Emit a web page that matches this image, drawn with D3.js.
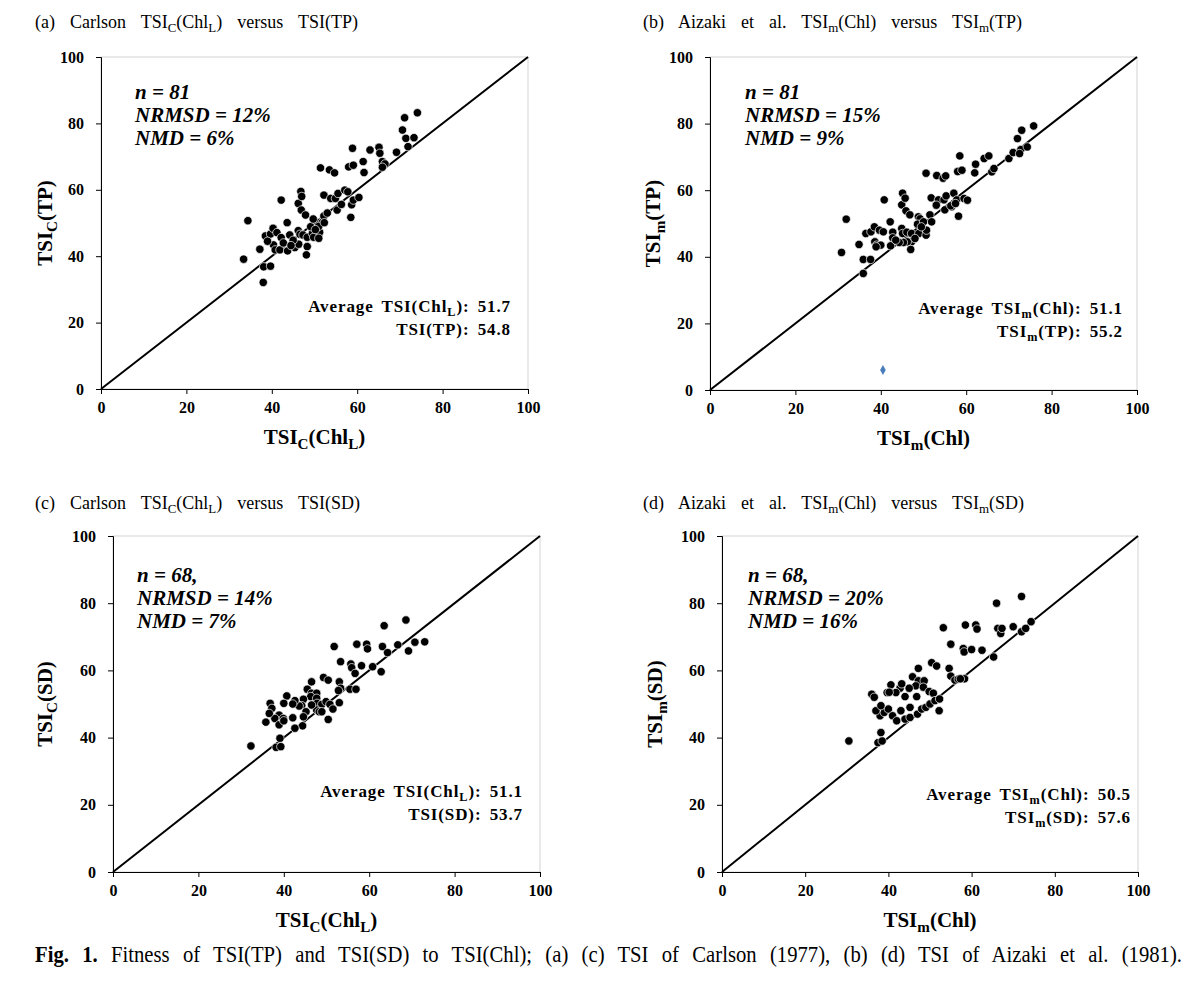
<!DOCTYPE html>
<html><head><meta charset="utf-8">
<script src="https://cdn.jsdelivr.net/npm/d3@7"></script>
<style>
body{margin:0;background:#fff;}
svg{display:block;}
svg text{font-family:"Liberation Serif","Times New Roman",Times,Tinos,serif;}
</style></head>
<body><svg id="chart" width="1200" height="992"></svg>
<script>
// ---------- DATA ----------
const tickValues = [0, 20, 40, 60, 80, 100];

// (a) Carlson TSIc(ChlL) vs TSIc(TP)
const aChl = [33.4,34.4,37.2,38.0,38.1,39.7,38.5,39.7,40.3,41.2,42.2,40.4,40.8,41.9,43.7,45.4,46.3,48.3,48.1,44.2,46.2,46.6,47.3,48.3,49.5,49.8,51.2,51.0,50.8,51.8,49.1,43.6,42.2,46.2,46.9,47.9,49.7,51.0,52.2,52.3,55.3,56.3,58.7,58.5,52.2,53.8,54.9,55.5,57.1,57.8,59.1,60.4,51.4,53.5,54.7,58.9,58.0,59.1,61.4,61.6,63.0,65.1,65.3,65.9,66.5,65.9,69.2,70.6,71.1,74.1,71.4,73.3,71.9,46.8,47.0,42.7,53.0,45.0,39.0,50.2,44.5];
const aTP  = [39.1,50.7,42.1,32.1,36.8,37.0,46.1,46.7,48.4,47.1,45.6,43.4,41.9,41.9,41.6,42.6,43.6,42.9,40.4,46.4,47.7,46.6,46.4,45.7,46.9,45.7,47.2,45.4,50.1,50.1,48.9,50.1,56.9,55.9,53.9,52.4,51.2,49.0,52.1,50.1,53.9,55.6,55.5,51.7,58.4,57.4,57.4,58.9,59.9,59.4,56.9,57.7,66.6,66.0,65.1,72.5,66.9,67.4,68.5,65.2,72.0,72.8,71.0,68.5,67.8,66.8,71.3,78.0,81.7,83.2,75.5,75.7,73.0,59.5,58.0,44.0,53.0,44.8,44.5,48.0,43.2];

// (b) Aizaki TSIm(Chl) vs TSIm(TP)
const bChl = [30.8,31.9,34.9,35.9,37.6,35.9,36.5,37.7,38.5,39.7,40.6,38.6,39.0,40.0,38.9,42.2,42.8,42.8,42.3,44.9,45.1,46.1,47.2,48.9,50.6,50.7,47.2,46.2,45.3,44.3,47.0,44.9,45.9,46.8,48.8,49.2,48.6,50.0,51.5,51.9,40.8,45.1,45.7,51.8,53.5,54.8,55.3,57.1,57.8,56.6,55.0,56.4,50.6,53.1,54.6,55.2,58.0,58.2,59.5,60.3,58.5,59.0,62.0,62.2,64.2,65.3,66.0,66.5,70.0,71.0,72.0,72.8,73.0,74.3,75.8,72.5,57.5,43.5,49.5,53.0,48.0];
const bTP  = [41.3,51.3,43.7,39.2,39.2,35.0,47.0,47.5,49.0,48.0,47.5,44.5,43.5,43.5,43.0,50.5,47.4,45.7,43.3,48.5,47.0,47.4,47.0,47.0,46.5,48.0,44.5,44.5,44.3,44.3,42.2,55.6,53.8,52.6,52.0,51.4,49.8,50.5,52.6,50.5,57.1,59.1,57.6,57.7,57.1,57.1,58.3,59.1,57.1,55.0,54.1,55.3,65.1,64.4,63.6,64.3,65.6,52.2,57.5,57.0,70.3,66.0,65.2,67.8,69.5,70.3,65.5,66.5,69.5,71.3,75.5,72.2,78.0,73.0,79.3,71.0,56.0,45.0,49.0,55.5,45.5];
const bOutlierChl = [40.5];
const bOutlierTP  = [6.0];

// (c) Carlson TSIc(ChlL) vs TSIc(SD)
const cChl = [63.5,68.6,51.8,57.1,59.4,59.6,63.1,66.7,70.7,69.2,64.3,53.3,55.7,55.9,58.2,60.8,62.8,56.7,49.3,50.4,53.0,53.3,55.5,56.9,46.5,45.5,46.5,47.7,46.3,47.7,47.8,48.9,49.9,50.8,52.8,53.0,47.7,48.3,48.9,50.4,46.5,44.6,44.2,43.6,42.6,42.1,45.2,44.6,44.4,42.6,42.1,40.7,40.0,38.9,37.9,39.9,38.9,40.0,36.8,37.2,36.6,35.8,39.1,38.2,39.3,32.3,73.0,51.5];
const cSD  = [73.3,75.0,67.1,67.8,67.8,66.4,67.1,67.6,68.4,65.8,65.3,62.6,61.9,60.8,61.4,61.1,59.6,59.1,57.9,57.1,56.6,54.7,54.4,54.4,56.6,54.4,53.2,53.2,52.2,51.7,50.2,49.9,50.7,49.9,54.0,50.4,48.2,47.7,47.7,45.4,49.7,51.4,49.5,49.4,51.0,50.0,47.7,46.2,43.5,42.8,45.9,52.4,50.2,46.7,45.7,45.7,43.8,45.0,50.2,48.7,47.2,44.6,39.8,37.1,37.3,37.5,68.5,48.5];

// (d) Aizaki TSIm(Chl) vs TSIm(SD)
const dChl = [53.2,55.0,54.6,55.0,56.0,56.8,47.2,50.4,51.6,45.8,47.2,48.6,46.6,48.4,45.0,42.8,40.6,41.8,39.7,36.0,36.6,44.0,46.8,49.8,50.8,58.5,61.0,61.3,58.0,58.2,60.0,62.5,66.0,72.0,66.3,67.0,67.3,70.0,72.0,74.3,73.0,65.3,58.3,57.3,30.5,37.5,38.5,38.2,38.0,39.0,40.0,41.0,43.0,42.0,44.0,45.2,47.0,48.0,49.0,50.0,51.2,52.2,52.3,45.2,37.0,38.2,40.2,43.2];
const dSD  = [72.7,67.8,60.6,58.3,57.1,57.4,60.6,62.3,61.3,58.1,56.9,56.9,55.4,55.0,54.7,54.7,55.7,53.4,53.4,52.9,52.0,52.2,52.2,53.7,53.2,73.5,73.5,72.3,66.5,65.5,66.2,66.0,80.0,82.0,72.5,71.0,72.5,73.0,71.5,74.5,72.5,64.0,57.5,57.5,39.0,38.5,39.0,41.5,46.5,47.5,48.5,46.5,48.0,45.0,45.5,46.0,47.0,48.5,49.0,50.0,51.0,48.0,51.5,49.0,48.0,49.5,53.5,56.0];

// ---------- DRAW ----------
const svg = d3.select("#chart");
const FONT = '"Liberation Serif","Times New Roman",Times,Tinos,serif';

function subText(sel, parts, fs) {
  const shift = Math.round(fs * 0.22);
  let pendingUp = 0;
  parts.forEach(p => {
    if (p[1]) {
      sel.append("tspan").attr("font-size", fs * 0.72).attr("dy", shift).text(p[0]);
      pendingUp = -shift;
    } else {
      const t = sel.append("tspan").text(p[0]);
      if (pendingUp) { t.attr("dy", pendingUp); pendingUp = 0; }
    }
  });
}

const panels = [
  { xs: aChl, ys: aTP, x0: 101, x1: 528, yT: 57, yB: 389,
    title: [["(a)  Carlson  TSI",0],["C",1],["(Chl",0],["L",1],[")  versus  TSI(TP)",0]], tx: 35, ty: 28,
    xt: [["TSI",0],["C",1],["(Chl",0],["L",1],[")",0]], yt: [["TSI",0],["C",1],["(TP)",0]], ytx: 52,
    n: "n = 81", nrmsd: "NRMSD = 12%", nmd: "NMD = 6%", ax: 135, ay: 99,
    avg1: [["Average TSI(Chl",0],["L",1],["): 51.7",0]], avg2: [["TSI(TP): 54.8",0]], avx: 511, avy: 312 },
  { xs: bChl, ys: bTP, x0: 710, x1: 1137, yT: 57, yB: 390,
    title: [["(b)  Aizaki  et  al.  TSI",0],["m",1],["(Chl)  versus  TSI",0],["m",1],["(TP)",0]], tx: 643, ty: 28,
    xt: [["TSI",0],["m",1],["(Chl)",0]], yt: [["TSI",0],["m",1],["(TP)",0]], ytx: 660,
    n: "n = 81", nrmsd: "NRMSD = 15%", nmd: "NMD = 9%", ax: 745, ay: 99,
    avg1: [["Average TSI",0],["m",1],["(Chl): 51.1",0]], avg2: [["TSI",0],["m",1],["(TP): 55.2",0]], avx: 1123, avy: 314,
    outlier: true },
  { xs: cChl, ys: cSD, x0: 113, x1: 540, yT: 536, yB: 872,
    title: [["(c)  Carlson  TSI",0],["C",1],["(Chl",0],["L",1],[")  versus  TSI(SD)",0]], tx: 35, ty: 509,
    xt: [["TSI",0],["C",1],["(Chl",0],["L",1],[")",0]], yt: [["TSI",0],["C",1],["(SD)",0]], ytx: 52,
    n: "n = 68,", nrmsd: "NRMSD = 14%", nmd: "NMD = 7%", ax: 137, ay: 582,
    avg1: [["Average TSI(Chl",0],["L",1],["): 51.1",0]], avg2: [["TSI(SD): 53.7",0]], avx: 523, avy: 797 },
  { xs: dChl, ys: dSD, x0: 722, x1: 1138, yT: 536, yB: 872,
    title: [["(d)  Aizaki  et  al.  TSI",0],["m",1],["(Chl)  versus  TSI",0],["m",1],["(SD)",0]], tx: 643, ty: 509,
    xt: [["TSI",0],["m",1],["(Chl)",0]], yt: [["TSI",0],["m",1],["(SD)",0]], ytx: 662,
    n: "n = 68,", nrmsd: "NRMSD = 20%", nmd: "NMD = 16%", ax: 748, ay: 582,
    avg1: [["Average TSI",0],["m",1],["(Chl): 50.5",0]], avg2: [["TSI",0],["m",1],["(SD): 57.6",0]], avx: 1131, avy: 800 }
];

panels.forEach(p => {
  const x = d3.scaleLinear().domain([0, 100]).range([p.x0, p.x1]);
  const y = d3.scaleLinear().domain([0, 100]).range([p.yB, p.yT]);
  const g = svg.append("g");

  g.append("rect").attr("x", p.x0).attr("y", p.yT).attr("width", p.x1 - p.x0).attr("height", p.yB - p.yT)
    .attr("fill", "none").attr("stroke", "#c8c8c8").attr("stroke-width", 0.8);

  const xAxis = d3.axisBottom(x).tickValues(tickValues).tickSize(5).tickPadding(8);
  const yAxis = d3.axisLeft(y).tickValues(tickValues).tickSize(5).tickPadding(12);
  const gx = g.append("g").attr("transform", `translate(0,${p.yB})`).call(xAxis);
  const gy = g.append("g").attr("transform", `translate(${p.x0},0)`).call(yAxis);
  [gx, gy].forEach(a => {
    a.attr("font-family", FONT);
    a.select(".domain").attr("stroke", "#000").attr("stroke-width", 1);
    a.selectAll(".tick line").attr("stroke", "#000");
    a.selectAll(".tick text").attr("font-size", 16).attr("font-weight", "bold").attr("fill", "#000");
  });

  g.append("line").attr("x1", x(0)).attr("y1", y(0)).attr("x2", x(100)).attr("y2", y(100))
    .attr("stroke", "#000").attr("stroke-width", 2);

  const pts = p.xs.map((v, i) => [v, p.ys[i]]);
  g.selectAll("circle.pt").data(pts).join("circle").attr("class", "pt")
    .attr("cx", d => x(d[0])).attr("cy", d => y(d[1])).attr("r", 4.2)
    .attr("fill", "#000").attr("stroke", "#fff").attr("stroke-width", 0.7);

  if (p.outlier) {
    const od = bOutlierChl.map((v, i) => [v, bOutlierTP[i]]);
    g.selectAll("path.out").data(od).join("path").attr("class", "out")
      .attr("d", d3.symbol(d3.symbolDiamond, 28))
      .attr("transform", d => `translate(${x(d[0])},${y(d[1])})`)
      .attr("fill", "#4a7ebb");
  }

  const t = g.append("text").attr("x", p.tx).attr("y", p.ty).attr("font-size", 18)
    .attr("fill", "#000").style("white-space", "pre").attr("word-spacing", 3);
  subText(t, p.title, 18);

  const xtt = g.append("text").attr("x", (p.x0 + p.x1) / 2).attr("y", p.yB + 55)
    .attr("text-anchor", "middle").attr("font-size", 21).attr("font-weight", "bold");
  subText(xtt, p.xt, 21);
  const ytt = g.append("text").attr("transform", `translate(${p.ytx},${(p.yT + p.yB) / 2}) rotate(-90)`)
    .attr("text-anchor", "middle").attr("font-size", 21).attr("font-weight", "bold");
  subText(ytt, p.yt, 21);

  const st = g.append("g").attr("font-size", 21).attr("font-weight", "bold").attr("font-style", "italic");
  st.append("text").attr("x", p.ax).attr("y", p.ay).text(p.n);
  st.append("text").attr("x", p.ax).attr("y", p.ay + 23).text(p.nrmsd);
  st.append("text").attr("x", p.ax).attr("y", p.ay + 46).text(p.nmd);

  [p.avg1, p.avg2].forEach((parts, k) => {
    const a = g.append("text").attr("x", p.avx).attr("y", p.avy + 23 * k).attr("text-anchor", "end")
      .attr("font-size", 17).attr("font-weight", "bold").attr("letter-spacing", 0.9).attr("word-spacing", 3);
    subText(a, parts, 17);
  });
});

// caption: slightly condensed serif, justified across the page with word spacing
const capScale = 0.92, capWidth = 1147;
const capParts = [["Fig. 1.", true], [" Fitness of TSI(TP) and TSI(SD) to TSI(Chl); (a) (c) TSI of Carlson (1977), (b) (d) TSI of Aizaki et al. (1981).", false]];
const capG = svg.append("g").attr("transform", `translate(35,962) scale(${capScale},1)`);
const cap = capG.append("text").attr("x", 0).attr("y", 0).attr("font-size", 22.5);
capParts.forEach(c => cap.append("tspan").attr("font-weight", c[1] ? "bold" : "normal").text(c[0]));
const natural = cap.node().getComputedTextLength();
const nSpaces = capParts.map(c => c[0]).join("").split(" ").length - 1;
cap.attr("word-spacing", Math.max(0, (capWidth / capScale - natural) / nSpaces));
</script>
</body></html>
